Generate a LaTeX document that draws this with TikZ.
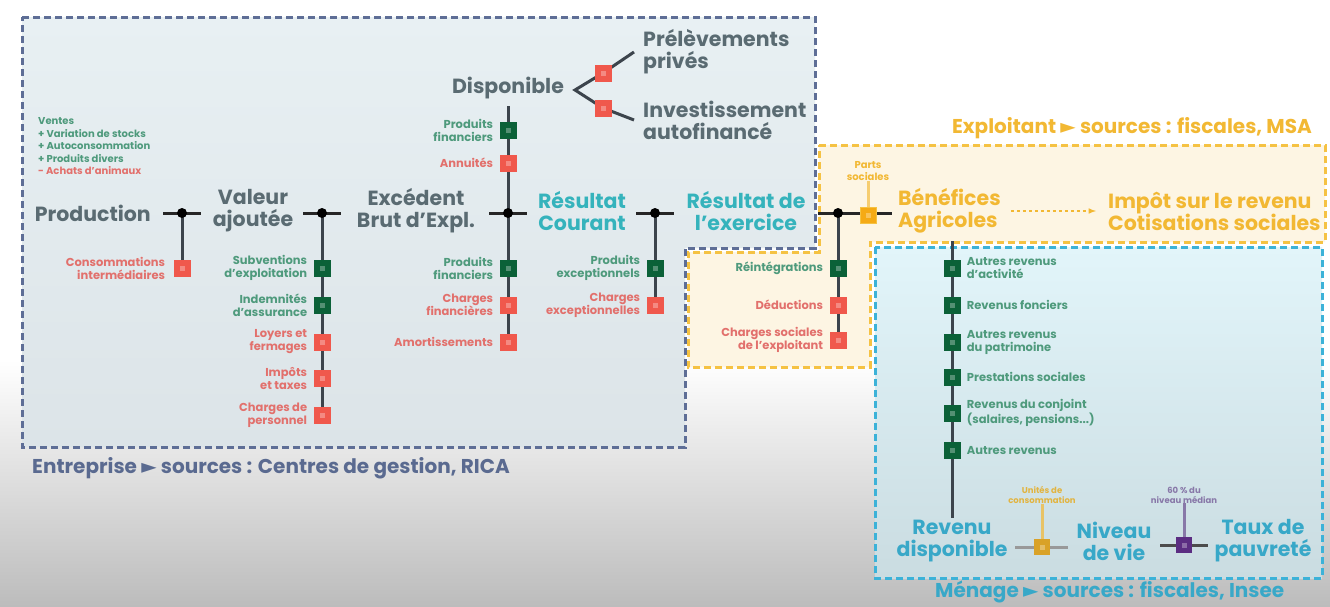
\documentclass[tikz,border=0pt]{standalone}
\usepackage{fontspec}
\setmainfont{Poppins}
\newfontfamily\symf{DejaVu Sans}
\usetikzlibrary{calc}
\definecolor{navyb}{HTML}{5E6E96}
\definecolor{navyf}{HTML}{E8F0F3}
\definecolor{navyf2}{HTML}{DCE4E8}
\definecolor{orb}{HTML}{F5C243}
\definecolor{orf}{HTML}{FDF5E3}
\definecolor{cyb}{HTML}{3CB2D8}
\definecolor{cyf}{HTML}{E2F5FA}
\definecolor{cyf2}{HTML}{CADCE1}
\definecolor{txtg}{HTML}{5A6B72}
\definecolor{tealtx}{HTML}{35B3BC}
\definecolor{bluetx}{HTML}{38A8C8}
\definecolor{ortx}{HTML}{F2B833}
\definecolor{gtx}{HTML}{4E9A7C}
\definecolor{rtx}{HTML}{E2706C}
\definecolor{sqg}{HTML}{0B6138}
\definecolor{sqr}{HTML}{F0584C}
\definecolor{sqo}{HTML}{F5AA15}
\definecolor{sqgold}{HTML}{D9A228}
\definecolor{goldtx}{HTML}{E2B440}
\definecolor{sqp}{HTML}{5B2D82}
\definecolor{ptx}{HTML}{8878A8}
\definecolor{connc}{HTML}{3C444C}
\definecolor{entx}{HTML}{5A6A90}
\pgfdeclarelayer{boxes}
\pgfdeclarelayer{lines}
\pgfsetlayers{boxes,lines,main}
\tikzset{
  dashbox/.style={line width=3pt, dash pattern=on 7pt off 4pt},
  big/.style={font=\bfseries\fontsize{20.5}{22}\selectfont, align=center, text=txtg, inner sep=0pt},
  sl/.style={font=\bfseries\fontsize{11.5}{13}\selectfont, align=right, inner sep=0pt, anchor=east},
  ml/.style={font=\bfseries\fontsize{11.5}{13}\selectfont, align=left, inner sep=0pt, anchor=west, text=gtx},
  leg/.style={font=\bfseries\fontsize{10}{11}\selectfont, inner sep=0pt, anchor=west},
  tiny/.style={font=\bfseries\fontsize{8.5}{10}\selectfont, inner sep=0pt, align=center},
  sq/.style={rectangle, minimum size=17pt, inner sep=0pt,
     path picture={\fill[white,opacity=.3] ($(path picture bounding box.center)+(-2.5,-2.5)$) rectangle ++(5,5);}},
  gsq/.style={sq, fill=sqg},
  rsq/.style={sq, fill=sqr},
  jn/.style={circle, fill=black, minimum size=10pt, inner sep=0pt},
  jbar/.style={line width=3pt, black!85},
  conn/.style={line width=3pt, connc},
  grbar/.style={line width=3pt, gray!80},
  head/.style={font=\bfseries\fontsize{20}{22}\selectfont, inner sep=0pt},
}
\begin{document}
\begin{tikzpicture}[x=1pt,y=-1pt]
\useasboundingbox (0,0) rectangle (1330,606);
\begin{pgfonlayer}{boxes}
\fill[white] (0,0) rectangle (1330,606);
\shade[top color=white, bottom color={rgb,255:red,188;green,188;blue,188}] (0,360) rectangle (1330,606);
\shade[top color=navyf, middle color=navyf, bottom color=navyf2] (22,17) -- (815,17) -- (815,248) -- (685,248) -- (685,447) -- (22,447) -- cycle;
\draw[dashbox, navyb] (22,17) -- (815,17) -- (815,248) -- (685,248) -- (685,447) -- (22,447) -- cycle;
\fill[orf] (819,145) -- (1325,145) -- (1325,242) -- (870,242) -- (870,367) -- (688,367) -- (688,252) -- (819,252) -- cycle;
\draw[dashbox, orb] (819,145) -- (1325,145) -- (1325,242) -- (870,242) -- (870,367) -- (688,367) -- (688,252) -- (819,252) -- cycle;
\shade[top color=cyf, middle color=cyf, bottom color=cyf2] (875,247) rectangle (1322,578);
\draw[dashbox, cyb] (875,247) rectangle (1322,578);
\end{pgfonlayer}

% legend
\node[leg, text=gtx] (lg1) at (38,121) {Ventes};
\node[leg, text=gtx] (lg2) at (38,133.5) {+ Variation de stocks};
\node[leg, text=gtx] (lg3) at (38,146) {+ Autoconsommation};
\node[leg, text=gtx] (lg4) at (38,158.5) {+ Produits divers};
\node[leg, text=rtx] (lg5) at (38,171) {- Achats d'animaux};

% Production
\node[big, anchor=east] (prod) at (151,213) {Production};
\node[jn] (j1) at (182,213) {};
\node[rsq] (r1) at (182,268) {};
\node[sl, text=rtx] (lr1) at ([xshift=-8pt]r1.west) {Consommations\\intermédiaires};

% Valeur ajoutee
\node[big] (va) at (253,211) {Valeur\\ajoutée};
\node[jn] (j2) at (322,213) {};
\node[gsq] (v1) at (322,268) {};
\node[gsq] (v2) at (322,305) {};
\node[rsq] (v3) at (322,342) {};
\node[rsq] (v4) at (322,378) {};
\node[rsq] (v5) at (322,415) {};
\node[sl, text=gtx] (lv1) at ([xshift=-6pt]v1.west) {Subventions\\d'exploitation};
\node[sl, text=gtx] (lv2) at ([xshift=-6pt]v2.west) {Indemnités\\d'assurance};
\node[sl, text=rtx] (lv3) at ([xshift=-6pt]v3.west) {Loyers et\\fermages};
\node[sl, text=rtx] (lv4) at ([xshift=-6pt]v4.west) {Impôts\\et taxes};
\node[sl, text=rtx] (lv5) at ([xshift=-6pt]v5.west) {Charges de\\personnel};

% EBE
\node[big] (ebe) at (416,211) {Excédent\\Brut d'Expl.};
\node[jn] (j3) at (508,213) {};
\node[gsq] (e1) at (508,130) {};
\node[rsq] (e2) at (508,163) {};
\node[gsq] (e3) at (508,268) {};
\node[rsq] (e4) at (508,305) {};
\node[rsq] (e5) at (508,342) {};
\node[sl, text=gtx] (le1) at ([xshift=-6pt]e1.west) {Produits\\financiers};
\node[sl, text=rtx] (le2) at ([xshift=-6pt]e2.west) {Annuités};
\node[sl, text=gtx] (le3) at ([xshift=-6pt]e3.west) {Produits\\financiers};
\node[sl, text=rtx] (le4) at ([xshift=-6pt]e4.west) {Charges\\financières};
\node[sl, text=rtx] (le5) at ([xshift=-6pt]e5.west) {Amortissements};

% Disponible
\node[big] (disp) at (508,88) {Disponible};
\coordinate (dv) at (575,90);
\node[rsq] (d1) at (603,73) {};
\node[rsq] (d2) at (603,108) {};
\node[big, anchor=west, align=left] (pp) at (643,52) {Prélèvements\\privés};
\node[big, anchor=west, align=left] (ia) at (643,120) {Investissement\\autofinancé};

% Resultat courant
\node[big, text=tealtx] (rc) at (582,211) {Résultat\\Courant};
\node[jn] (j4) at (655,213) {};
\node[gsq] (c1) at (655,268) {};
\node[rsq] (c2) at (655,305) {};
\node[sl, text=gtx] (lc1) at ([xshift=-6pt]c1.west) {Produits\\exceptionnels};
\node[sl, text=rtx] (lc2) at ([xshift=-6pt]c2.west) {Charges\\exceptionnelles};

% Resultat de l'exercice
\node[big, text=tealtx] (re) at (746,211) {Résultat de\\l'exercice};
\node[jn] (j5) at (838,213) {};
\node[gsq] (x1) at (838,268) {};
\node[rsq] (x2) at (838,305) {};
\node[rsq] (x3) at (838,340) {};
\node[sl, text=gtx] (lx1) at ([xshift=-6pt]x1.west) {Réintégrations};
\node[sl, text=rtx] (lx2) at ([xshift=-6pt]x2.west) {Déductions};
\node[sl, text=rtx] (lx3) at ([xshift=-6pt]x3.west) {Charges sociales\\de l'exploitant};

% Exploitant
\node[sq, fill=sqo, minimum size=16pt, draw=orb, line width=1pt] (osq) at (868,215) {};
\node[tiny, text=ortx, font=\bfseries\fontsize{10}{12}\selectfont] (ps) at (868,171) {Parts\\sociales};
\node[big, text=ortx, anchor=west, align=left] (ba) at (898,211) {Bénéfices\\Agricoles};
\node[big, text=ortx, anchor=west, align=left] (ir) at (1108,211) {Impôt sur le revenu\\Cotisations sociales};
\node[head, text=ortx, anchor=east] (hexp) at (1312,128) {Exploitant {\symf ►} sources : fiscales, MSA};

% Menage
\coordinate (mtop) at (952,241);
\coordinate (mbot) at (952,518);
\node[gsq] (m1) at (952,268) {};
\node[gsq] (m2) at (952,305) {};
\node[gsq] (m3) at (952,342) {};
\node[gsq] (m4) at (952,377) {};
\node[gsq] (m5) at (952,413) {};
\node[gsq] (m6) at (952,450) {};
\node[ml] (lm1) at ([xshift=6pt]m1.east) {Autres revenus\\d'activité};
\node[ml] (lm2) at ([xshift=6pt]m2.east) {Revenus fonciers};
\node[ml] (lm3) at ([xshift=6pt]m3.east) {Autres revenus\\du patrimoine};
\node[ml] (lm4) at ([xshift=6pt]m4.east) {Prestations sociales};
\node[ml] (lm5) at ([xshift=6pt]m5.east) {Revenus du conjoint\\(salaires, pensions...)};
\node[ml] (lm6) at ([xshift=6pt]m6.east) {Autres revenus};

\node[big, text=bluetx] (rd) at (952,541) {Revenu\\disponible};
\node[sq, fill=sqgold, minimum size=16pt] (gq) at (1042,547) {};
\coordinate (gql) at (1015,547);
\coordinate (gqr) at (1068,547);
\node[tiny, text=goldtx] (lgq) at (1042,495) {Unités de\\consommation};
\node[big, text=bluetx] (nv) at (1114,541) {Niveau\\de vie};
\node[sq, fill=sqp, minimum size=16pt] (pq) at (1184,545) {};
\coordinate (pql) at (1160,545);
\coordinate (pqr) at (1208,545);
\node[tiny, text=ptx] (lpq) at (1184,495) {60 \% du\\niveau médian};
\node[big, text=bluetx] (tp) at (1263,541) {Taux de\\pauvreté};
\node[head, text=bluetx, anchor=west] (hmen) at (935,592) {Ménage {\symf ►} sources : fiscales, Insee};
\node[head, text=entx, anchor=west] (hent) at (32,468) {Entreprise {\symf ►} sources : Centres de gestion, RICA};

\begin{pgfonlayer}{lines}
\foreach \j in {j1,j2,j3,j4} \draw[jbar] ([xshift=-19pt]\j.center) -- ([xshift=19pt]\j.center);
\draw[jbar] ([xshift=-20pt]j5.center) -- ([xshift=54pt]j5.center);
\draw[conn] (j1.center) -- (r1.center);
\draw[conn] (j2.center) -- (v5.center);
\draw[conn] ([yshift=-7pt]disp.south) -- (e5.center);
\draw[conn] (j4.center) -- (c2.center);
\draw[conn] (j5.center) -- (x3.center);
\draw[conn] (d1.center) -- (dv) -- (d2.center);
\draw[conn] (d1.center) -- ([xshift=-9pt]pp.west);
\draw[conn] (d2.center) -- ([xshift=-9pt]ia.west);
\draw[line width=3pt, ortx!70] (osq.center) -- (ps.south);
\draw[line width=1.5pt, ortx, dashed, -latex] ([xshift=10pt]ba.east) -- ([xshift=-12pt]ir.west);
\draw[conn] (mtop) -- (mbot);
\draw[grbar] (gql) -- (gqr);
\draw[line width=3pt, goldtx!80] (gq.center) -- (lgq.south);
\draw[grbar, black!70] (pql) -- (pqr);
\draw[line width=3pt, ptx] (pq.center) -- (lpq.south);
\end{pgfonlayer}
\end{tikzpicture}
\end{document}
